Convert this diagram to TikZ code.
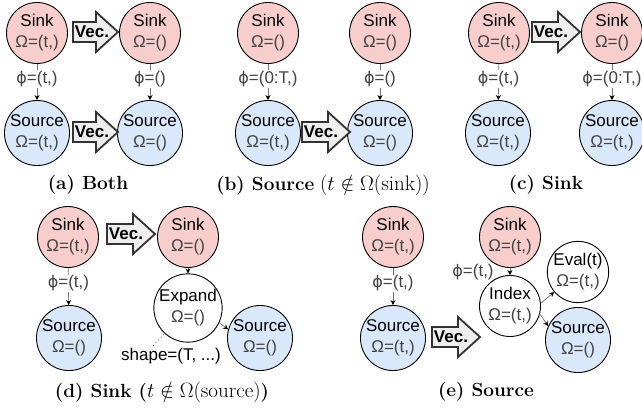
\documentclass[tikz,border=0pt]{standalone}
\usepackage{fontspec}
\setsansfont{Liberation Sans}
\newfontfamily\phifont{DejaVu Sans}
\usetikzlibrary{arrows.meta}
\definecolor{sinkfill}{HTML}{F8CECC}
\definecolor{srcfill}{HTML}{DAE8FC}
\definecolor{vecfill}{HTML}{EEEEEE}
\definecolor{txtgray}{HTML}{444444}
\tikzset{
 circ/.style={circle, draw=black, line width=0.9pt, minimum size=61pt, inner sep=0pt, align=center, font=\sffamily\fontsize{17}{21}\selectfont},
 sinknode/.style={circ, fill=sinkfill},
 srcnode/.style={circ, fill=srcfill},
 opnode/.style={circ, fill=white},
 edge/.style={draw=black!55, line width=0.7pt, -{Stealth[length=5pt,width=5pt,black]}},
 lbl/.style={fill=white, inner sep=1pt, text=txtgray, font=\sffamily\fontsize{17}{21}\selectfont},
 vecbody/.style={draw=black!80, line width=1.8pt, fill=vecfill, line join=miter},
 vectext/.style={font=\sffamily\bfseries\fontsize{17}{20}\selectfont, inner sep=0pt},
 captxt/.style={font=\fontsize{19}{22}\selectfont, inner sep=0pt},
 dotline/.style={draw=black!70, line width=0.8pt, dash pattern=on 0.8pt off 3pt},
}
\newcommand\vecarrow[4]{%
  \draw[vecbody] (#2,#4-10) -- (#3-22,#4-10) -- (#3-22,#4-20) -- (#3,#4) -- (#3-22,#4+20) -- (#3-22,#4+10) -- (#2,#4+10) -- cycle;
  \node[vectext] (#1) at (#2+19,#4) {Vec.};
}
\newcommand\om[1]{\textcolor{txtgray}{Ω=#1}}
\newcommand\ph{{\phifont\fontsize{16}{21}\selectfont ϕ}}
\newcommand\capmath[1]{{\fontsize{21}{24}\selectfont$#1$}}
\begin{document}
\begin{tikzpicture}[x=1pt,y=-1pt]
\useasboundingbox (0,0) rectangle (642,410);
% (a)
\node[sinknode] (a1) at (37,33) {Sink\\\om{(t,)}};
\node[sinknode] (a2) at (150,33) {Sink\\\om{()}};
\node[srcnode] (a3) at (37,133) {Source\\\om{(t,)}};
\node[srcnode] (a4) at (150,133) {Source\\\om{()}};
\draw[edge] (a1) -- node[lbl,pos=0.42]{\ph=(t,)} (a3);
\draw[edge] (a2) -- node[lbl,pos=0.42]{\ph=()} (a4);
\vecarrow{va1}{73}{118}{32}
\vecarrow{va2}{73}{118}{132}
\node[captxt] (capa) at (88,185) {\textbf{(a) Both}};
% (b)
\node[sinknode] (b1) at (268,33) {Sink\\\om{()}};
\node[srcnode] (b2) at (268,133) {Source\\\om{(t,)}};
\node[sinknode] (b3) at (380,33) {Sink\\\om{()}};
\node[srcnode] (b4) at (380,133) {Source\\\om{()}};
\draw[edge] (b1) -- node[lbl,pos=0.42]{\ph=(0:T,)} (b2);
\draw[edge] (b3) -- node[lbl,pos=0.42]{\ph=()} (b4);
\vecarrow{vb}{302}{350}{132}
\node[captxt] (capb) at (323,185) {\textbf{(b) Source} \capmath{(t\notin\Omega(\mathrm{sink}))}};
% (c)
\node[sinknode] (c1) at (499,33) {Sink\\\om{(t,)}};
\node[srcnode] (c2) at (498,133) {Source\\\om{(t,)}};
\node[sinknode] (c3) at (612,33) {Sink\\\om{()}};
\node[srcnode] (c4) at (612,133) {Source\\\om{(t,)}};
\draw[edge] (c1) -- node[lbl,pos=0.42]{\ph=(t,)} (c2);
\draw[edge] (c3) -- node[lbl,pos=0.42]{\ph=(0:T,)} (c4);
\vecarrow{vc}{532}{580}{32}
\node[captxt] (capc) at (546,185) {\textbf{(c) Sink}};
% (d)
\node[sinknode] (d1) at (68,237) {Sink\\\om{(t,)}};
\node[srcnode] (d2) at (69,338) {Source\\\om{()}};
\draw[edge] (d1) -- node[lbl,pos=0.42]{\ph=(t,)} (d2);
\vecarrow{vd}{107}{155}{234}
\node[sinknode] (d3) at (188,237) {Sink\\\om{()}};
\node[opnode] (d4) at (188,308) {Expand\\\om{()}};
\node[srcnode] (d5) at (260,338) {Source\\\om{()}};
\draw[edge] (d3) -- (d4);
\draw[edge] (d4.-25) -- (d5.165);
\node[lbl, text=black, fill=none] (dshape) at (171,356) {shape=(T, ...)};
\coordinate (dds) at (164,334);
\coordinate (dde) at (152,347);
\draw[dotline] (dds) -- (dde);
\node[captxt] (capd) at (162,392) {\textbf{(d) Sink (}\capmath{t\notin\Omega(\mathrm{source})}\textbf{)}};
% (e)
\node[sinknode] (e1) at (393,237) {Sink\\\om{(t,)}};
\node[srcnode] (e2) at (393,338) {Source\\\om{(t,)}};
\draw[edge] (e1) -- node[lbl,pos=0.42]{\ph=(t,)} (e2);
\vecarrow{ve}{432}{480}{337}
\node[sinknode] (e3) at (510,237) {Sink\\\om{(t,)}};
\node[opnode] (e4) at (510,306) {Index\\\om{(t,)}};
\node[opnode] (e5) at (578,272) {Eval(t)\\\om{(t,)}};
\node[srcnode] (e6) at (578,340) {Source\\\om{()}};
\draw[edge] (e3) -- (e4);
\draw[edge] (e4.5) -- (e5.220);
\draw[edge] (e4.-15) -- (e6.155);
\node[lbl, fill=none] (ephi) at (473,272) {\ph=(t,)};
\node[captxt] (cape) at (486,392) {\textbf{(e) Source}};
\end{tikzpicture}
\end{document}
